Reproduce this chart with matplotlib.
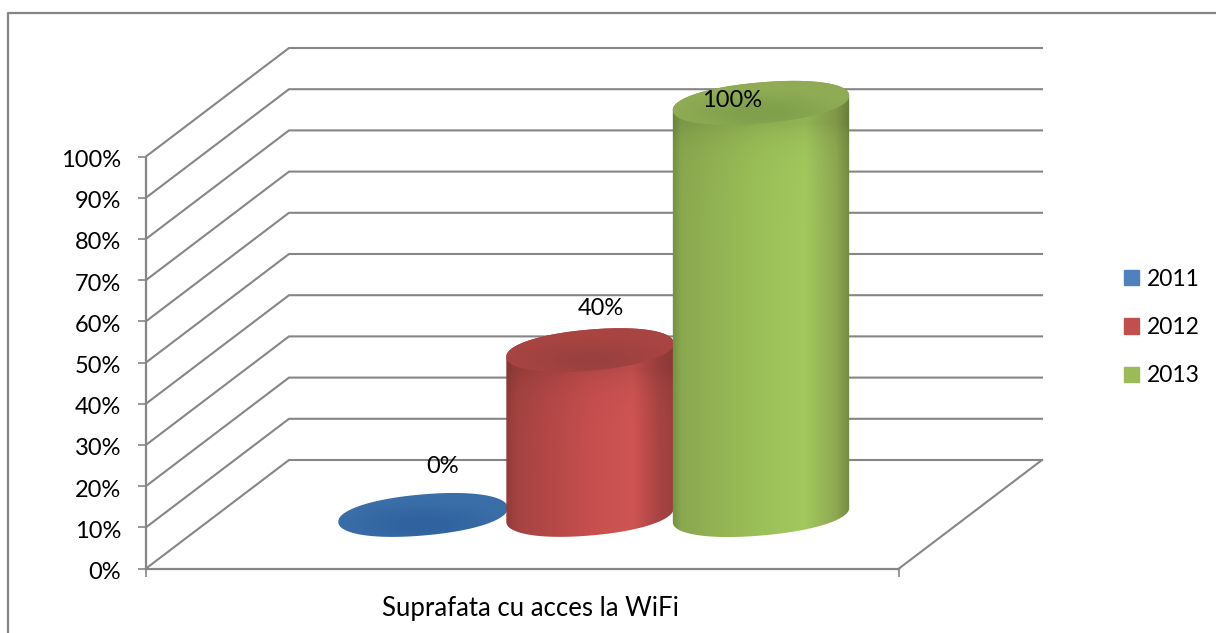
import numpy as np
import matplotlib
matplotlib.use('Agg')
import matplotlib.pyplot as plt
from matplotlib.colors import LinearSegmentedColormap, to_rgb
from matplotlib.lines import Line2D
from matplotlib.patches import Patch, Polygon
from matplotlib.transforms import ScaledTranslation

# data
years = ['2011', '2012', '2013']
values = [0, 40, 100]
category = 'Suprafata cu acces la WiFi'
y_ticks = [0, 10, 20, 30, 40, 50, 60, 70, 80, 90, 100]
legend_colors = ['#4f81bd', '#c0504d', '#9bbb59']

GRAY = '#868686'
W, H = 1216, 633
plt.rcParams['font.family'] = ['Lato', 'DejaVu Sans']

# front plane of the 3d box, in pixels
X0, X1 = 146, 899
Y0, Y100 = 568.5, 156.5
PX = (Y0 - Y100) / 100  # pixels for 1%
DEPTH_X, DEPTH_Y = 143, 108.5 / PX

fig = plt.figure(figsize=(W / 100, H / 100), dpi=100, facecolor='white')
ax = fig.add_axes([X0 / W, 1 - Y0 / H, (X1 - X0) / W, (Y0 - Y100) / H])
ax.set_facecolor('none')

# chart frame, only top and left are visible
fig.add_artist(Line2D([8 / W, 8 / W, 1], [0, 1 - 13 / H, 1 - 13 / H], color=GRAY, lw=1.6))

# walls and gridlines
for v in y_ticks:
    ax.plot([0, DEPTH_X, X1 - X0 + DEPTH_X], [v, v + DEPTH_Y, v + DEPTH_Y],
            color=GRAY, lw=1.5, clip_on=False, zorder=1, solid_joinstyle='miter')
ax.plot([X1 - X0, X1 - X0 + DEPTH_X], [0, DEPTH_Y], color=GRAY, lw=1.5, clip_on=False, zorder=1)


def ellipse(cx, cy, a, b, n=300, start=0, stop=2 * np.pi):
    # tilted and slightly squared ellipse, cx and a in pixels, cy in percent
    tilt = np.radians(5)
    t = np.linspace(start, stop, n)
    ex = a * np.sign(np.cos(t)) * np.abs(np.cos(t)) ** 0.94
    ey = b * np.sign(np.sin(t)) * np.abs(np.sin(t)) ** 0.94
    px = ex * np.cos(tilt) - ey * np.sin(tilt)
    py = ex * np.sin(tilt) + ey * np.cos(tilt)
    return np.column_stack([cx + px, cy + py / PX])


def clipped_image(rgb, extent, pts, z):
    im = ax.imshow(rgb, extent=extent, aspect='auto', origin='lower',
                   interpolation='bilinear', zorder=z)
    im.set_clip_box(fig.bbox)
    im.set_clip_path(Polygon(pts, closed=True, transform=ax.transData))


body_stops = [
    [(0, '#2f64a0'), (1, '#2f64a0')],
    [(0, '#8e3a38'), (0.08, '#a54341'), (0.5, '#c64f4e'), (0.75, '#cf5553'),
     (0.9, '#a84443'), (1, '#9a3f3d')],
    [(0, '#6c8c3c'), (0.06, '#8aa84f'), (0.5, '#9cc058'), (0.75, '#a3c85e'),
     (0.92, '#8ea852'), (1, '#70893f')],
]
top_colors = [('#3a6ea8', '#2f629e'), ('#a84442', '#9a4140'), ('#8fab54', '#80a04c')]

# cylinders, left to right so that the later ones cover the earlier ones
centers = [277, 444, 615]
half_widths = [85, 84, 88.5]
BASE = 13
B = 20.5
for i, v in enumerate(values):
    cx, a = centers[i], half_widths[i]
    z = 3 + i
    if v > 0:
        lower = ellipse(cx, BASE, a, B, start=np.pi, stop=2 * np.pi)
        upper = ellipse(cx, BASE + v, a, B, start=0, stop=np.pi)
        cmap = LinearSegmentedColormap.from_list('b', body_stops[i])
        grad = cmap(np.linspace(0, 1, 256))[:, :3]
        bottom, top = BASE - 8, BASE + v + 8
        rows = np.linspace(bottom, top, 200)
        # the body gets darker just under the top face
        shade = 1 - 0.1 * np.exp(-np.clip(BASE + v - 20 / PX - rows, 0, None) * PX / 18)
        rgb = grad[np.newaxis, :, :] * shade[:, np.newaxis, np.newaxis]
        clipped_image(rgb, [cx - a - 2, cx + a + 2, bottom, top], np.vstack([lower, upper]), z)
    # top face
    pts = ellipse(cx, BASE + v, a, B)
    xs = np.linspace(-1.05, 1.05, 120)
    ys = np.linspace(-1.3, 1.3, 60)
    gx, gy = np.meshgrid(xs, ys)
    r = np.sqrt((gx / 0.75) ** 2 + ((gy + 0.35) / 0.6) ** 2)
    mix = np.clip(1.3 - r, 0, 1)[..., np.newaxis]
    rim, inner = to_rgb(top_colors[i][0]), to_rgb(top_colors[i][1])
    rgb = np.array(rim) * (1 - mix) + np.array(inner) * mix
    clipped_image(rgb, [cx - 1.05 * a, cx + 1.05 * a,
                        BASE + v - 1.3 * (B + 8) / PX, BASE + v + 1.3 * (B + 8) / PX], pts, z + 0.5)

# data labels
label_dx = [20, 11, -29]
label_dy = [48, 42, 2]
for i, v in enumerate(values):
    ax.text(centers[i] + label_dx[i], BASE + v + label_dy[i] / PX, f'{v}%', ha='center', va='center',
            fontsize=17, color='black', zorder=10, clip_on=False)

# axes
ax.set_xlim(0, X1 - X0)
ax.set_ylim(0, 100)
ax.set_yticks(y_ticks)
ax.set_yticklabels([f'{v}%' for v in y_ticks], fontsize=17, color='black', va='center_baseline')
ax.set_xticks([0, X1 - X0])
ax.set_xticklabels([])
ax.tick_params(axis='both', color=GRAY, width=1.2, length=6)
ax.tick_params(axis='y', pad=12)
# labels sit a little under their ticks
shift = ScaledTranslation(0, -2 / 100, fig.dpi_scale_trans)
for lab in ax.get_yticklabels():
    lab.set_transform(lab.get_transform() + shift)
for s in ['top', 'right']:
    ax.spines[s].set_visible(False)
for s in ['left', 'bottom']:
    ax.spines[s].set_color(GRAY)
    ax.spines[s].set_linewidth(1.6)
ax.set_xlabel(category, fontsize=18.5, color='black', x=(530 - X0) / (X1 - X0), labelpad=10.5)

handles = [Patch(color=c, label=y) for c, y in zip(legend_colors, years)]
fig.legend(handles=handles, loc='center left', bbox_to_anchor=(1124 / W, 1 - 327.5 / H),
           frameon=False, fontsize=16.5, handlelength=0.65, handleheight=0.65,
           handletextpad=0.35, labelspacing=1.2, borderpad=0, borderaxespad=0)

fig.savefig('out.png', dpi=100)
